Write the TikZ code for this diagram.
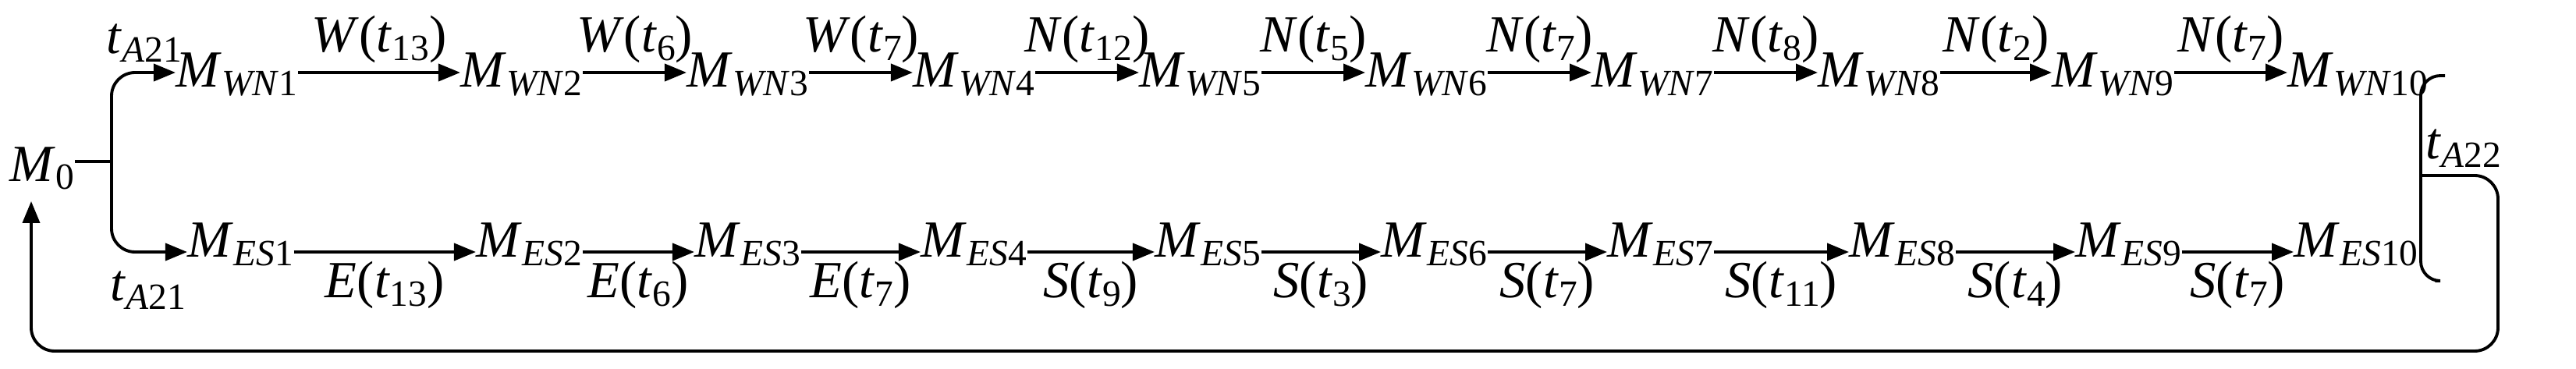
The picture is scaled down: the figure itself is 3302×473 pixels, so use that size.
\documentclass[tikz,border=0pt]{standalone}
\usepackage{fontspec}
\setmainfont{Liberation Serif}
\usetikzlibrary{arrows.meta}
\newcommand{\sbx}[1]{\raisebox{-0.35ex}{\fontsize{13.5}{13.5}\selectfont #1}}
\newcommand{\Mk}[1]{\textit{M}\sbx{#1}}
\newcommand{\Tk}[1]{\textit{t}\sbx{#1}}
\begin{document}
\begin{tikzpicture}[x=0.01cm,y=-0.01cm,
  every node/.style={inner sep=0pt,font=\fontsize{19}{22}\selectfont},
  st/.style={anchor=base west},
  ln/.style={line width=1.1pt},
  ar/.style={ln,-{Triangle[length=0.28cm,width=0.22cm]}}]
\useasboundingbox (0,0) rectangle (3302,473);
\node[st] (M0) at (12,232) {\Mk{0}};
\foreach \i/\x in {1/225,2/590,3/880,4/1170,5/1460,6/1750,7/2040,8/2330,9/2630,10/2932}
  \node[st] (W\i) at (\x,112) {\Mk{\textit{WN}\i}};
\foreach \i/\x in {1/240,2/610,3/890,4/1180,5/1480,6/1770,7/2060,8/2370,9/2660,10/2940}
  \node[st] (E\i) at (\x,330) {\Mk{\textit{ES}\i}};
\foreach \a/\b/\L/\n in {1/2/W/13,2/3/W/6,3/4/W/7,4/5/N/12,5/6/N/5,6/7/N/7,7/8/N/8,8/9/N/2,9/10/N/7}{
  \draw[ar] (W\a.east|-0,93) -- (W\b.west|-0,93) node[midway,above=3pt] {\textit{\L}(\Tk{\n})};}
\foreach \a/\b/\L/\n in {1/2/E/13,2/3/E/6,3/4/E/7,4/5/S/9,5/6/S/3,6/7/S/7,7/8/S/11,8/9/S/4,9/10/S/7}{
  \draw[ar] (E\a.east|-0,323) -- (E\b.west|-0,323) node[midway,below=3pt] {\textit{\L}(\Tk{\n})};}
\coordinate (br) at (143,207);
\draw[ln] (M0.east|-0,207) -- (br);
\draw[ar,rounded corners=0.3cm] (br) -- (143,93) -- (W1.west|-0,93);
\draw[ar,rounded corners=0.3cm] (br) -- (143,323) -- (E1.west|-0,323);
\node at (185,55) {\Tk{\textit{A}21}};
\node at (190,372) {\Tk{\textit{A}21}};
\coordinate (rb) at (3103,225);
\draw[ln,rounded corners=0.25cm] ([xshift=6pt]W10.east|-0,97) -- (3103,97) -- (3103,360) -- ([xshift=6pt]E10.east|-0,360);
\draw[ar,rounded corners=0.3cm] (rb) -- (3202,225) -- (3202,450) -- (40,450) -- ([yshift=-4pt]M0.south west-|40,0);
\node at (3158,190) {\Tk{\textit{A}22}};
\end{tikzpicture}
\end{document}
